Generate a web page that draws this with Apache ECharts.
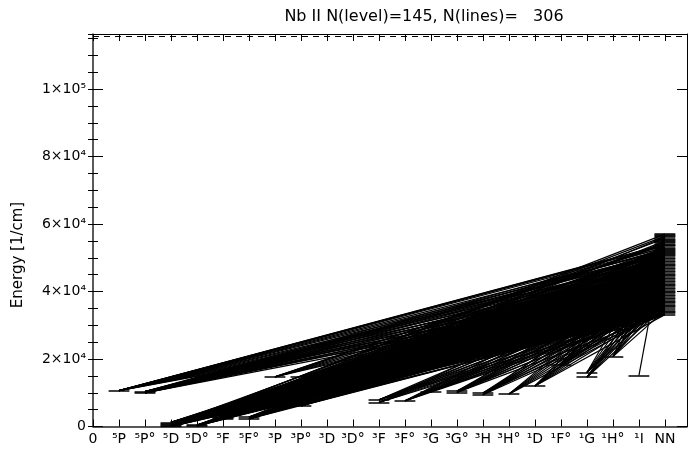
<!DOCTYPE html>
<html><head><meta charset="utf-8">
<script src="https://cdn.jsdelivr.net/npm/echarts@6/dist/echarts.min.js"></script>
<style>html,body{margin:0;padding:0;background:#fff}#c{width:690px;height:454px}</style>
</head><body><div id="c"></div>
<script>
// x-axis term labels (column index = position)
const termLabels = ['0','⁵P','⁵P°','⁵D','⁵D°','⁵F','⁵F°','³P','³P°','³D','³D°','³F','³F°','³G','³G°','³H','³H°','¹D','¹F°','¹G','¹H°','¹I','NN'];
// y tick labels
const yTickValues = [0, 20000, 40000, 60000, 80000, 100000];
const yTickLabels = ['0', '2×10⁴', '4×10⁴', '6×10⁴', '8×10⁴', '1×10⁵'];
const ionLimit = 115500;
const nnColumn = 22;
// lower levels: term column and energy (1/cm)
const lowerTerm   = [1, 2, 2, 3, 3, 3, 3, 3, 4, 4, 5, 5, 5, 5, 5, 6, 6, 7, 7, 8, 8, 11, 11, 12, 13, 14, 14, 15, 15, 16, 17, 18, 19, 19, 20, 21];
const lowerEnergy = [10650, 9950, 10350, 0, 158, 439, 801, 1224, 150, 450, 2357, 2630, 3030, 3542, 4146, 2250, 2800, 5900, 14700, 6100, 14600, 7100, 7900, 7600, 10300, 10100, 10500, 9400, 9900, 9600, 12000, 18250, 14600, 16000, 20700, 15100];
// upper (NN) levels energies
const nnEnergy = [
  33150, 33600, 34050, 34400, 34900, 35350, 35700, 36100, 36550, 36900,
  37400, 37850, 38200, 38700, 39050, 39500, 39900, 40350, 40800, 41150,
  41600, 42050, 42400, 42900, 43300, 43650, 44100, 44600, 44950, 45400,
  45800, 46250, 46700, 47050, 47500, 47950, 48300, 48800, 49200, 49650,
  50050, 50500, 50900, 51350, 51700, 52200, 52600, 53050, 53500, 54000,
  54600, 55300, 56700, 54300, 55000, 55700, 56100, 56400, 57000, 53800,
  52400, 51100
];
// transitions: for each lower level, the NN levels it connects to
const upperOf = [
  [17,20,24,27,30,33,36,38,41,43,45,47,48,49,59],
  [15,19,22,26,29,32,35,39,42,44,46,60],
  [18,21,25,28,31,34,37,40,43,47,61],
  [0,2,5,8,11,14,17,20,23,26,29,32,35,38,41,44,47,50,58,10,19],
  [1,3,6,9,12,16,19,22,25,28,31,34,37,40,43,46,57,13,30],
  [0,2,4,7,10,13,15,18,21,24,27,30,33,36,39,42,45,55,16,34],
  [1,3,5,8,11,14,17,20,23,26,29,32,35,38,41,53,7,44],
  [2,4,6,9,12,15,18,21,24,27,30,33,36,39,11,25],
  [3,7,10,14,19,23,28,33,38,5,44],
  [1,5,9,13,18,22,27,32,37,42,16],
  [0,4,8,12,16,20,24,29,34,40,56,45],
  [2,6,10,14,18,22,26,31,36,41],
  [1,5,9,13,17,21,25,30,35,54],
  [3,7,11,15,19,23,28,33,39],
  [0,4,9,14,19,24,29,35,42],
  [2,6,11,16,21,26,31,37,43],
  [1,5,10,15,20,25,30,36,46],
  [3,8,13,18,23,28,34],
  [20,26,32,38,44,49,59],
  [2,7,12,17,22,27,33],
  [22,28,34,40,46,60],
  [0,4,9,14,19,25,31],
  [2,6,11,16,21,27],
  [1,5,10,15,20,26,32],
  [3,8,13,18,24,30],
  [0,6,12,18,24,36],
  [4,10,16,22,29],
  [1,7,13,19,25,33],
  [3,9,15,21,28],
  [2,8,14,20,27,35],
  [0,5,11,17,23,31,61],
  [4,9,15,21,30,41,53],
  [6,12,18,26,34],
  [8,14,20,28,38,55],
  [3,10,17,25,33,52],
  [52]
];
const titleText = 'Nb II N(level)=145, N(lines)=   306';
const yName = 'Energy [1/cm]';

const halfW = 0.4;
const levelData = [];
lowerTerm.forEach((c, i) => levelData.push({coords: [[c - halfW, lowerEnergy[i]], [c + halfW, lowerEnergy[i]]]}));
nnEnergy.forEach(e => levelData.push({coords: [[nnColumn - halfW, e], [nnColumn + halfW, e]]}));
const lineData = [];
upperOf.forEach((ups, i) => ups.forEach(j => lineData.push({coords: [[lowerTerm[i], lowerEnergy[i]], [nnColumn, nnEnergy[j]]]})));

const FONT = 'DejaVu Sans';
const XMAX = 22.85, YMAX = 116300;
const chart = echarts.init(document.getElementById('c'), null, {renderer: 'canvas'});
const baseX = {type: 'value', min: 0, max: XMAX, interval: 1, splitLine: {show: false}};
const baseY = {type: 'value', min: 0, max: YMAX, splitLine: {show: false}};
chart.setOption({
  animation: false,
  backgroundColor: '#fff',
  grid: {left: 93, right: 1, top: 34, bottom: 27.5, containLabel: false},
  graphic: [
    {type: 'text', x: 424, y: 17, style: {text: titleText, font: '16px ' + FONT, fill: '#000', align: 'center', verticalAlign: 'middle'}},
    {type: 'text', x: 18, y: 255, rotation: Math.PI / 2, style: {text: yName, font: '15px ' + FONT, fill: '#000', align: 'center', verticalAlign: 'middle'}}
  ],
  xAxis: [
    Object.assign({}, baseX, {position: 'bottom',
      axisLine: {show: true, onZero: false, lineStyle: {color: '#222', width: 1.5}},
      axisTick: {show: true, inside: true, length: 7, lineStyle: {color: '#000'}},
      axisLabel: {show: true, margin: 6, color: '#000', fontFamily: FONT, fontSize: 14,
        formatter: v => Number.isInteger(v) && termLabels[v] !== undefined ? termLabels[v] : ''}}),
    Object.assign({}, baseX, {position: 'top',
      axisLine: {show: true, onZero: false, lineStyle: {color: '#000', width: 1}},
      axisTick: {show: true, inside: true, length: 7, lineStyle: {color: '#000'}},
      axisLabel: {show: false}})
  ],
  yAxis: [
    Object.assign({}, baseY, {position: 'left', interval: 20000,
      axisLine: {show: true, onZero: false, lineStyle: {color: '#222', width: 1.5}},
      axisTick: {show: true, inside: true, length: 10, lineStyle: {color: '#000'}},
      axisLabel: {show: true, margin: 7, color: '#000', fontFamily: FONT, fontSize: 14,
        formatter: v => { const k = yTickValues.indexOf(v); return k >= 0 ? yTickLabels[k] : ''; }}}),
    Object.assign({}, baseY, {position: 'left', interval: 5000,
      axisLine: {show: false},
      axisTick: {show: true, inside: true, length: 5, lineStyle: {color: '#000'}},
      axisLabel: {show: false}}),
    Object.assign({}, baseY, {position: 'right', interval: 20000,
      axisLine: {show: true, onZero: false, lineStyle: {color: '#000', width: 1}},
      axisTick: {show: true, inside: true, length: 10, lineStyle: {color: '#000'}},
      axisLabel: {show: false}}),
    Object.assign({}, baseY, {position: 'right', interval: 5000,
      axisLine: {show: false},
      axisTick: {show: true, inside: true, length: 5, lineStyle: {color: '#000'}},
      axisLabel: {show: false}})
  ],
  series: [
    {type: 'lines', coordinateSystem: 'cartesian2d', xAxisIndex: 0, yAxisIndex: 0, silent: true,
      lineStyle: {color: '#000', width: 1.2, opacity: 1}, data: lineData},
    {type: 'lines', coordinateSystem: 'cartesian2d', xAxisIndex: 0, yAxisIndex: 0, silent: true,
      lineStyle: {color: '#000', width: 1.6, opacity: 1}, data: levelData},
    {type: 'lines', coordinateSystem: 'cartesian2d', xAxisIndex: 0, yAxisIndex: 0, silent: true,
      lineStyle: {color: '#000', width: 1, type: [6, 5], opacity: 1},
      data: [{coords: [[0, ionLimit], [XMAX, ionLimit]]}]}
  ]
});
</script></body></html>
